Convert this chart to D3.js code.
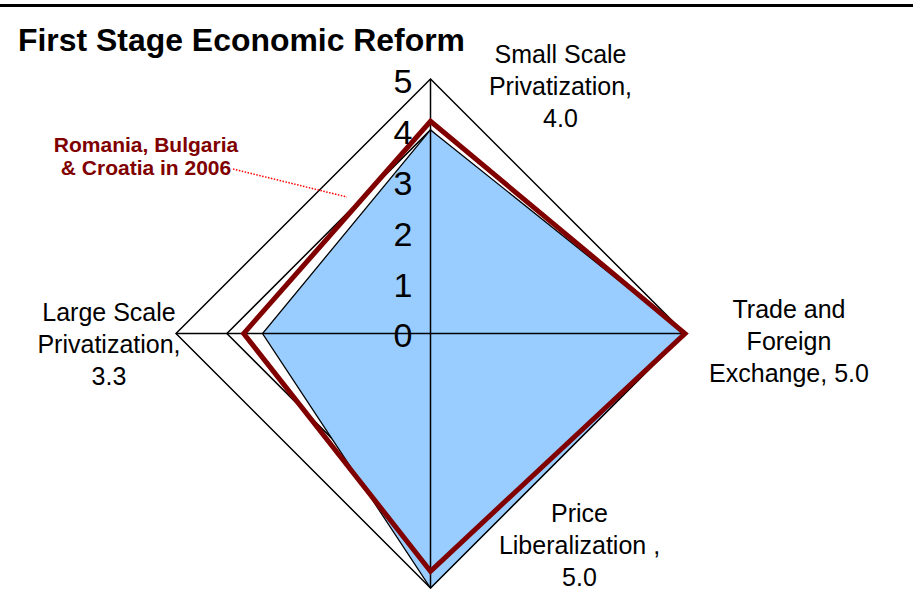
<!DOCTYPE html>
<html>
<head>
<meta charset="utf-8">
<script src="https://cdn.jsdelivr.net/npm/d3@7"></script>
<style>
  body { margin: 0; background: #fff; }
  svg text { font-family: "Liberation Sans", Arial, sans-serif; }
</style>
</head>
<body>
<div id="chart"></div>
<script>
const categories = [
  "Small Scale Privatization",
  "Trade and Foreign Exchange",
  "Price Liberalization",
  "Large Scale Privatization"
];
// data label text for each category (as printed on the chart)
const categoryLabels = [
  ["Small Scale", "Privatization,", "4.0"],
  ["Trade and", "Foreign", "Exchange, 5.0"],
  ["Price", "Liberalization ,", "5.0"],
  ["Large Scale", "Privatization,", "3.3"]
];
const firstStage = [4.0, 5.0, 5.0, 3.3];
const romBulCro2006 = [4.17, 5.0, 4.67, 3.67];
const ticks = [0, 1, 2, 3, 4, 5];

const width = 923;
const height = 613;
const cx = 430.5;
const cy = 333.5;
const radius = 254.5;

// where each category label sits relative to its spoke end
const labelOffsets = [[130, -16], [104, -16], [149, -66], [-67, -13]];

const svg = d3.select("#chart")
  .append("svg")
  .attr("width", width)
  .attr("height", height);

svg.append("line")
  .attr("x1", 0).attr("x2", 913)
  .attr("y1", 5.5).attr("y2", 5.5)
  .attr("stroke", "#000")
  .attr("stroke-width", 3);

svg.append("text")
  .attr("x", 18)
  .attr("y", 51)
  .attr("font-size", 31)
  .attr("font-weight", "bold")
  .attr("fill", "#000")
  .attr("textLength", 447)
  .attr("lengthAdjust", "spacingAndGlyphs")
  .text("First Stage Economic Reform");

const r = d3.scaleLinear().domain([0, 5]).range([0, radius]);
const angle = (i) => (i * 2 * Math.PI) / categories.length;
const pt = (i, v) => [
  cx + r(v) * Math.sin(angle(i)),
  cy - r(v) * Math.cos(angle(i))
];

const g = svg.append("g").attr("transform", `translate(${cx},${cy})`);

const radar = d3.lineRadial()
  .angle((d, i) => angle(i))
  .radius((d) => r(d))
  .curve(d3.curveLinearClosed);

// gridlines (behind the filled series)
g.append("g")
  .selectAll("path")
  .data(ticks.filter((t) => t > 0))
  .join("path")
  .attr("d", (t) => radar(categories.map(() => t)))
  .attr("fill", "none")
  .attr("stroke", "#000")
  .attr("stroke-width", 1.5);

g.append("path")
  .attr("d", radar(firstStage))
  .attr("fill", "#99ccff")
  .attr("stroke", "#000")
  .attr("stroke-width", 1.3);

// spokes
g.append("g")
  .selectAll("line")
  .data(categories)
  .join("line")
  .attr("x1", 0).attr("y1", 0)
  .attr("x2", (d, i) => r(5) * Math.sin(angle(i)))
  .attr("y2", (d, i) => -r(5) * Math.cos(angle(i)))
  .attr("stroke", "#000")
  .attr("stroke-width", 1.5);

g.append("path")
  .attr("d", radar(romBulCro2006))
  .attr("fill", "none")
  .attr("stroke", "#800000")
  .attr("stroke-width", 5)
  .attr("stroke-linejoin", "miter");

// axis tick labels
g.append("g")
  .selectAll("text")
  .data(ticks)
  .join("text")
  .attr("x", -18)
  .attr("y", (t) => -r(t) + 2)
  .attr("dy", "0.35em")
  .attr("text-anchor", "end")
  .attr("font-size", 34)
  .attr("fill", "#000")
  .text((t) => t);

// category / data labels
const lineH = 32;
svg.append("g")
  .selectAll("text")
  .data(categoryLabels)
  .join("text")
  .attr("text-anchor", "middle")
  .attr("font-size", 25)
  .attr("fill", "#000")
  .each(function (lines, i) {
    const [x, y] = pt(i, 5);
    const [dx, dy] = labelOffsets[i];
    d3.select(this)
      .selectAll("tspan")
      .data(lines)
      .join("tspan")
      .attr("x", x + dx)
      .attr("y", (d, k) => y + dy + k * lineH)
      .text((d) => d);
  });

// series annotation with dotted leader
svg.append("line")
  .attr("x1", 233).attr("y1", 169)
  .attr("x2", 347).attr("y2", 197)
  .attr("stroke", "#ff0000")
  .attr("stroke-width", 1.5)
  .attr("stroke-dasharray", "1.5 1.5");

svg.append("text")
  .attr("text-anchor", "middle")
  .attr("font-size", 21)
  .attr("font-weight", "bold")
  .attr("fill", "#800000")
  .selectAll("tspan")
  .data(["Romania, Bulgaria", "& Croatia in 2006"])
  .join("tspan")
  .attr("x", 146)
  .attr("y", (d, k) => 152 + k * 23)
  .text((d) => d);
</script>
</body>
</html>
